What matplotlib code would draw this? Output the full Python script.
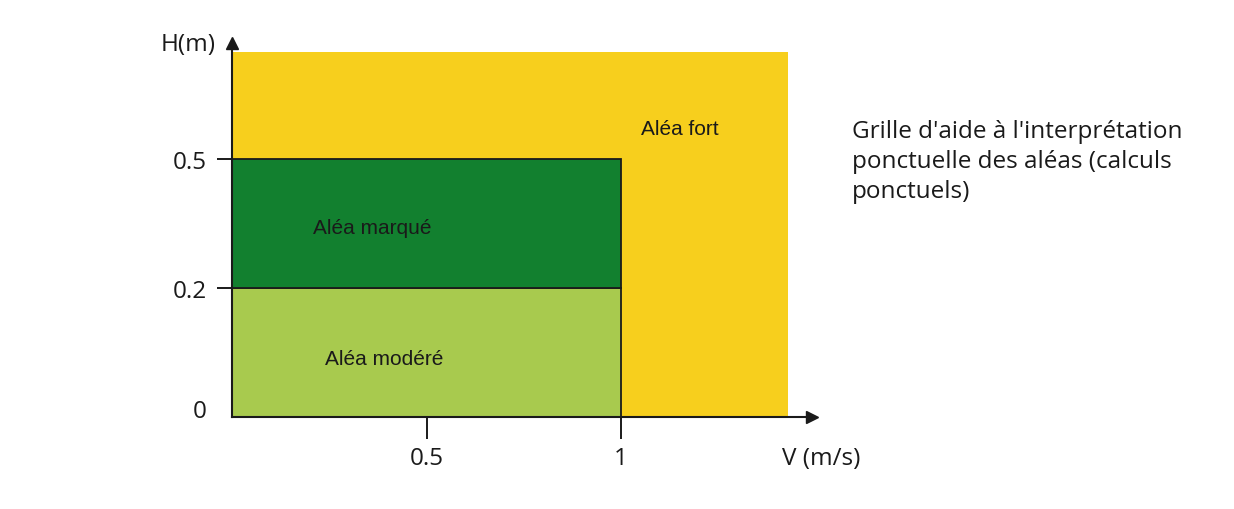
import numpy as np
import matplotlib
matplotlib.use("Agg")
import matplotlib.pyplot as plt

# zone limits (V in m/s, H in m)
V_MAX = 1.43
H_MAX = 0.75
V_LIMIT = 1.0
H_LIMITS = [0.0, 0.2, 0.5]

zones = ["Aléa modéré", "Aléa marqué", "Aléa fort"]
zone_colors = ["#A8CA4E", "#12802F", "#F7CF1D"]

x_ticks = [0.5, 1]
x_tick_labels = ["0.5", "1"]
y_ticks = [0, 0.2, 0.5]
y_tick_labels = ["0", "0.2", "0.5"]

note = "Grille d'aide à l'interprétation\nponctuelle des aléas (calculs\nponctuels)"


def h_forward(h):
    h = np.asarray(h, dtype=float)
    return np.where(h < 0.2, h / 0.2, 1 + (h - 0.2) / 0.3)


def h_inverse(p):
    p = np.asarray(p, dtype=float)
    return np.where(p < 1, p * 0.2, 0.2 + (p - 1) * 0.3)


def plot_grid():
    fig = plt.figure(figsize=(12.34, 5.10), dpi=100)
    W, H = 1234, 510
    ax = fig.add_axes([232 / W, (H - 418) / H, (812 - 232) / W, (418 - 44) / H])
    ax.set_yscale("function", functions=(h_forward, h_inverse))
    ax.set_xlim(0, 580 / 389)
    ax.set_ylim(0, float(h_inverse((418 - 44) / 129)))

    # yellow background zone, then the two green zones
    ax.bar(0, H_MAX, width=V_MAX, bottom=0, align="edge",
           color=zone_colors[2], zorder=1)
    for i in range(2):
        ax.bar(0, H_LIMITS[i + 1] - H_LIMITS[i], width=V_LIMIT,
               bottom=H_LIMITS[i], align="edge", color=zone_colors[i],
               edgecolor="#1a1a1a", linewidth=1.3, zorder=2)

    txt = dict(family="Liberation Sans", fontsize=15, color="#1a1a1a",
               ha="center", va="center", zorder=3)
    ax.text(0.39, 0.09, zones[0], **txt)
    ax.text(0.36, 0.34, zones[1], **txt)
    ax.text(1.15, 0.57, zones[2], **txt)

    for side in ["top", "right"]:
        ax.spines[side].set_visible(False)
    for side in ["left", "bottom"]:
        ax.spines[side].set_linewidth(1.5)
        ax.spines[side].set_color("#1a1a1a")
        ax.spines[side].set_zorder(4)
    ax.plot(1, 0, ">", color="#1a1a1a", ms=9, transform=ax.get_yaxis_transform(),
            clip_on=False, zorder=5)
    ax.plot(0, 1, "^", color="#1a1a1a", ms=9, transform=ax.get_xaxis_transform(),
            clip_on=False, zorder=5)

    lab = dict(family="Open Sans", fontsize=17.5, color="#1a1a1a")
    ax.set_xticks(x_ticks)
    ax.set_xticklabels(x_tick_labels, **lab)
    ax.set_yticks(y_ticks)
    ax.set_yticklabels(y_tick_labels, **lab)
    ax.yaxis.set_minor_locator(matplotlib.ticker.NullLocator())
    ax.tick_params(axis="x", length=16, width=1.4, pad=5, color="#1a1a1a")
    ax.tick_params(axis="y", length=11, width=1.4, pad=7, color="#1a1a1a")
    ax.yaxis.get_major_ticks()[0].tick1line.set_visible(False)
    ax.yaxis.get_major_ticks()[0].label1.set_va("baseline")

    fig.text(188 / W, 1 - 45 / H, "H(m)", ha="center", va="center", **lab)
    fig.text(821 / W, 1 - 459 / H, "V (m/s)", ha="center", va="center", **lab)
    fig.text(852 / W, 1 - 120 / H, note, ha="left", va="top",
             linespacing=1.33, **lab)

    fig.savefig("out.png", dpi=100)


def main():
    plot_grid()


if __name__ == "__main__":
    main()
